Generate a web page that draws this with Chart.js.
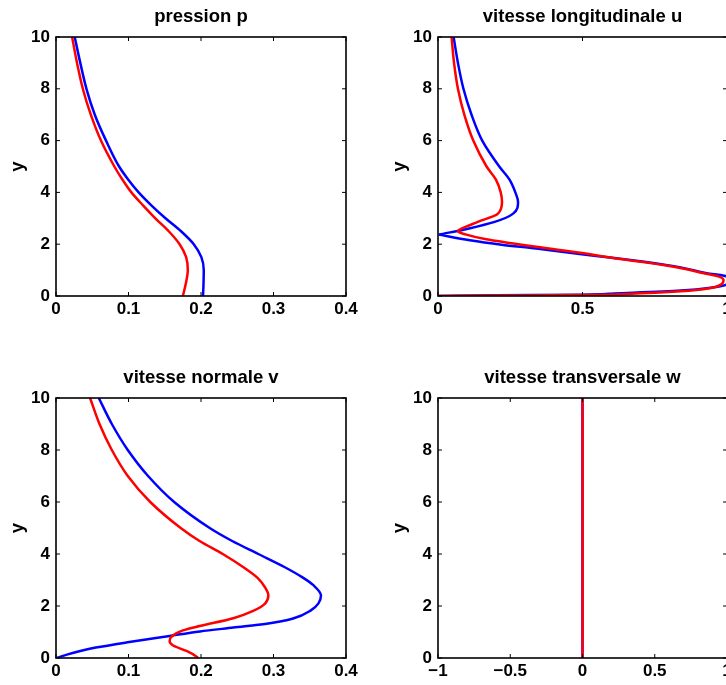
<!DOCTYPE html>
<html lang="fr">
<head>
<meta charset="utf-8">
<title>profils</title>
<script src="https://cdn.jsdelivr.net/npm/chart.js"></script>
<style>
    html, body { margin: 0; padding: 0; background: #fff; overflow: hidden; }
    #page { position: relative; width: 726px; height: 685px; overflow: hidden; }
    #page canvas { position: absolute; }
</style>
</head>
<body>
<div id="page">
    <canvas id="cp" width="363" height="330" style="left:0;top:0"></canvas>
    <canvas id="cu" width="381" height="330" style="left:382px;top:0"></canvas>
    <canvas id="cv" width="363" height="331" style="left:0;top:361px"></canvas>
    <canvas id="cw" width="381" height="331" style="left:382px;top:361px"></canvas>
</div>
<script>
    // [x, y] pairs, y increasing
    const pBlue = [[0.2028,0],[0.2035,0.5],[0.2038,1.0],[0.2005,1.5],[0.190,2.0],[0.1725,2.5],[0.151,3.0],
        [0.1315,3.5],[0.114,4.0],[0.0995,4.5],[0.087,5.0],[0.069,6.0],[0.0535,7.0],[0.042,8.0],[0.0335,9.0],
        [0.0258,10]];
    const pRed = [[0.175,0],[0.1792,0.5],[0.1818,1.0],[0.1795,1.5],[0.1705,2.0],[0.1555,2.5],[0.137,3.0],
        [0.12,3.5],[0.104,4.0],[0.0915,4.5],[0.0805,5.0],[0.062,6.0],[0.048,7.0],[0.037,8.0],[0.029,9.0],
        [0.0222,10]];

    // blue u has a sharp corner at y = 2.37, so it is kept in two pieces
    const uBlueLow = [[0,0],[0.2,0.025],[0.49,0.05],[0.61,0.1],[0.84,0.21],[0.95,0.33],[1.0,0.45],[1.01,0.65],
        [0.99,0.78],[0.93,0.88],[0.84,1.1],[0.72,1.31],[0.61,1.47],[0.49,1.62],[0.34,1.83],[0.22,1.98],
        [0.11,2.15],[0.003,2.37]];
    const uBlueHigh = [[0.003,2.37],[0.104,2.6],[0.196,2.86],[0.26,3.18],[0.277,3.63],[0.2676,4.0],
        [0.247,4.5],[0.212,5.0],[0.153,6.0],[0.116,7.0],[0.088,8.0],[0.069,9.0],[0.054,10]];
    const uRed = [[0,0],[0.2,0.015],[0.49,0.035],[0.65,0.08],[0.84,0.18],[0.94,0.3],[0.98,0.45],[0.988,0.62],
        [0.97,0.76],[0.92,0.88],[0.83,1.1],[0.71,1.31],[0.6,1.48],[0.5,1.66],[0.34,1.9],[0.167,2.19],
        [0.095,2.38],[0.069,2.5],[0.081,2.6],[0.138,2.86],[0.2076,3.18],[0.2215,3.63],[0.217,4.0],
        [0.200,4.5],[0.168,5.0],[0.122,6.0],[0.091,7.0],[0.069,8.0],[0.0555,9.0],[0.047,10]];

    const vBlue = [[0,0],[0.023,0.19],[0.055,0.4],[0.101,0.615],[0.157,0.85],[0.1986,1.02],[0.2446,1.17],
        [0.2906,1.32],[0.327,1.52],[0.352,1.84],[0.362,2.1],[0.3655,2.41],[0.355,2.8],[0.340,3.1],
        [0.315,3.5],[0.279,4.0],[0.243,4.5],[0.212,5.0],[0.163,6.0],[0.127,7.0],[0.099,8.0],[0.077,9.0],
        [0.059,10]];
    const vRed = [[0.196,0],[0.1935,0.06],[0.18,0.27],[0.161,0.49],[0.1567,0.65],[0.159,0.81],[0.175,1.06],
        [0.198,1.23],[0.2446,1.53],[0.272,1.81],[0.2883,2.09],[0.2929,2.41],[0.288,2.73],[0.278,3.08],
        [0.258,3.5],[0.230,4.0],[0.198,4.5],[0.172,5.0],[0.130,6.0],[0.099,7.0],[0.077,8.0],[0.060,9.0],
        [0.047,10]];

    const wBlue = [[0,0],[0,10]];
    const wRed = [[0,0],[0,10]];

    const titles = ['pression p', 'vitesse longitudinale u', 'vitesse normale v', 'vitesse transversale w'];

    const BLUE = '#0000ff';
    const RED = '#ff0000';
    const FONT = 'Liberation Sans, Arial, Helvetica, sans-serif';

    // matlab style box with inward ticks on all four sides
    const boxTicks = {
        id: 'boxTicks',
        afterDatasetsDraw(chart) {
            const {ctx, chartArea: a, scales: {x, y}} = chart;
            ctx.save();
            ctx.strokeStyle = '#000';
            ctx.lineWidth = 1;
            ctx.beginPath();
            x.ticks.forEach(t => {
                const px = x.getPixelForValue(t.value);
                ctx.moveTo(px, a.bottom);
                ctx.lineTo(px, a.bottom - 4);
                ctx.moveTo(px, a.top);
                ctx.lineTo(px, a.top + 4);
            });
            y.ticks.forEach(t => {
                const py = y.getPixelForValue(t.value);
                ctx.moveTo(a.left, py);
                ctx.lineTo(a.left + 4, py);
                ctx.moveTo(a.right, py);
                ctx.lineTo(a.right - 4, py);
            });
            ctx.stroke();
            ctx.lineWidth = 1.6;
            ctx.strokeRect(a.left, a.top, a.right - a.left, a.bottom - a.top);
            ctx.restore();
        }
    };

    function line(pairs, color) {
        return {
            data: pairs.map(p => ({x: p[0], y: p[1]})),
            borderColor: color,
            backgroundColor: color,
            borderWidth: 2.5,
            pointRadius: 0,
            cubicInterpolationMode: 'monotone',
            fill: false
        };
    }

    function makeChart(id, title, xMin, xMax, xStep, datasets, padRight) {
        const ctx = document.getElementById(id).getContext('2d');
        return new Chart(ctx, {
            type: 'line',
            data: {datasets: datasets},
            options: {
                indexAxis: 'y',
                responsive: false,
                animation: false,
                events: [],
                layout: {padding: {left: 0, right: padRight, top: 0, bottom: 0}},
                plugins: {
                    legend: {display: false},
                    tooltip: {enabled: false},
                    title: {
                        display: true,
                        text: title,
                        fullSize: false,
                        color: '#000',
                        font: {family: FONT, size: 18.5, weight: 'bold'},
                        padding: {top: 6, bottom: 8.8}
                    }
                },
                scales: {
                    x: {
                        type: 'linear',
                        position: 'bottom',
                        min: xMin,
                        max: xMax,
                        grid: {display: false, drawTicks: false},
                        border: {display: false},
                        ticks: {
                            stepSize: xStep,
                            color: '#000',
                            padding: 3,
                            maxRotation: 0,
                            font: {family: FONT, size: 17, weight: 'bold'},
                            callback: v => String(Math.round(v * 10) / 10).replace('-', '\u2212')
                        },
                        afterFit: s => { s.height = 34; }
                    },
                    y: {
                        type: 'linear',
                        position: 'left',
                        min: 0,
                        max: 10,
                        grid: {display: false, drawTicks: false},
                        border: {display: false},
                        title: {
                            display: true,
                            text: 'y',
                            color: '#000',
                            font: {family: FONT, size: 18.5, weight: 'bold'},
                            padding: {top: 7, bottom: 0}
                        },
                        ticks: {
                            stepSize: 2,
                            color: '#000',
                            padding: 6,
                            font: {family: FONT, size: 17, weight: 'bold'}
                        },
                        afterFit: s => { s.width = 56; }
                    }
                }
            },
            plugins: [boxTicks]
        });
    }

    // red first so that it is drawn on top of the blue curve
    makeChart('cp', titles[0], 0, 0.4, 0.1, [line(pRed, RED), line(pBlue, BLUE)], 17);
    makeChart('cu', titles[1], 0, 1, 0.5, [line(uRed, RED), line(uBlueLow, BLUE), line(uBlueHigh, BLUE)], 36);
    makeChart('cv', titles[2], 0, 0.4, 0.1, [line(vRed, RED), line(vBlue, BLUE)], 17);
    makeChart('cw', titles[3], -1, 1, 0.5, [line(wRed, RED), line(wBlue, BLUE)], 36);
</script>
</body>
</html>
